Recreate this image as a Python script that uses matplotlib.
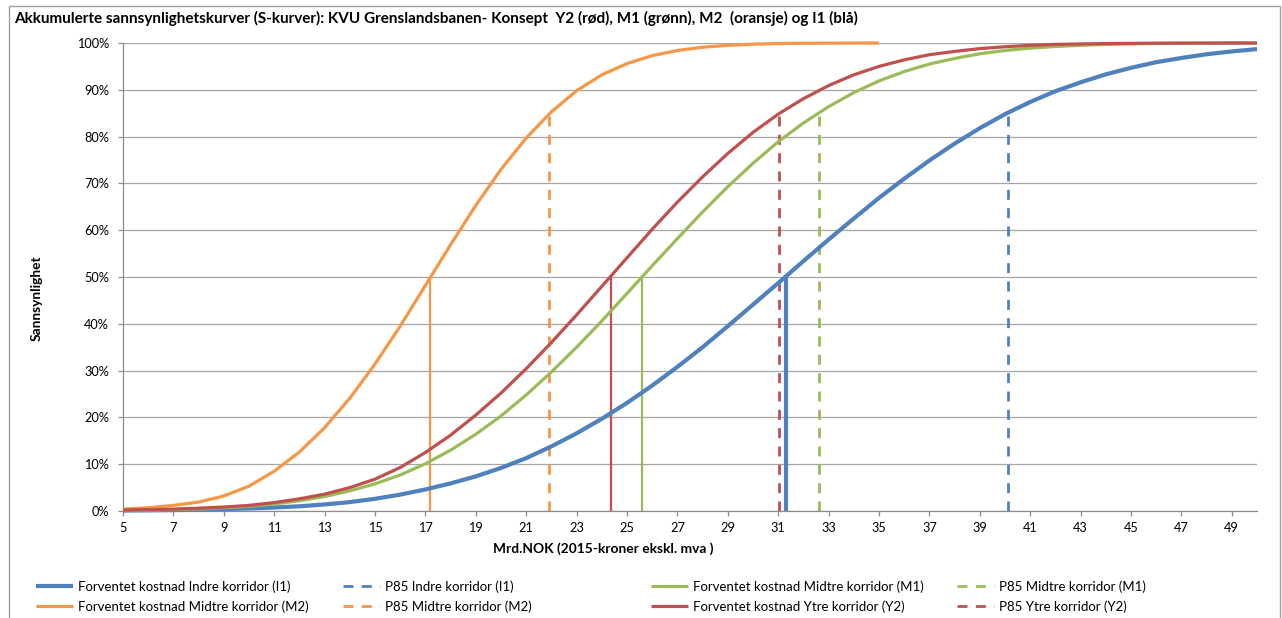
import matplotlib
matplotlib.use('Agg')
import matplotlib.pyplot as plt
from matplotlib.patches import Rectangle
from matplotlib.ticker import FuncFormatter

W, H, DPI = 1282, 618, 100
plt.rcParams['font.family'] = ['Lato', 'DejaVu Sans']

# ---------------- data ----------------
cost = list(range(5, 51))          # Mrd.NOK
cost_m2 = list(range(5, 36))

p_i1 = [0.1, 0.15, 0.2, 0.3, 0.4, 0.55, 0.75, 1.0, 1.4, 1.9, 2.6, 3.5, 4.6, 5.9, 7.4, 9.2,
        11.3, 13.8, 16.6, 19.7, 23.1, 26.8, 30.8, 35.0, 39.5, 44.1, 48.7, 53.4, 58.0, 62.5,
        66.9, 71.0, 74.9, 78.5, 81.8, 84.8, 87.4, 89.7, 91.6, 93.3, 94.7, 95.9, 96.8, 97.6,
        98.2, 98.7]
p_m1 = [0.15, 0.2, 0.3, 0.45, 0.7, 1.0, 1.5, 2.2, 3.1, 4.3, 5.8, 7.7, 10.1, 13.0, 16.4, 20.3,
        24.8, 29.7, 35.0, 40.6, 46.5, 52.4, 58.2, 63.9, 69.3, 74.3, 78.9, 82.9, 86.4, 89.4,
        91.9, 93.9, 95.5, 96.7, 97.7, 98.4, 98.9, 99.25, 99.5, 99.7, 99.8, 99.9, 99.93, 99.96,
        99.98, 100.0]
p_y2 = [0.2, 0.3, 0.4, 0.6, 0.85, 1.2, 1.8, 2.6, 3.6, 5.0, 6.8, 9.3, 12.5, 16.2, 20.5, 25.2,
        30.4, 36.0, 41.9, 48.0, 54.1, 60.2, 66.0, 71.4, 76.4, 80.9, 84.8, 88.1, 90.9, 93.2,
        95.0, 96.4, 97.5, 98.2, 98.8, 99.2, 99.5, 99.7, 99.8, 99.88, 99.93, 99.96, 99.98, 99.99,
        100.0, 100.0]
p_m2 = [0.4, 0.7, 1.2, 1.9, 3.2, 5.3, 8.5, 12.6, 17.8, 24.1, 31.4, 39.5, 48.2, 56.9, 65.3,
        73.0, 79.7, 85.3, 89.8, 93.2, 95.6, 97.3, 98.4, 99.1, 99.5, 99.75, 99.88, 99.94, 99.97,
        99.99, 100.0]

concepts = ['I1', 'M1', 'M2', 'Y2']
expected = [31.3, 25.6, 17.2, 24.35]     # Forventet kostnad (P50)
p85 = [40.1, 32.6, 21.9, 31.05]          # P85
exp_level, p85_level = 50, 85

labels_exp = ['Forventet kostnad Indre korridor (I1)', 'Forventet kostnad Midtre korridor (M1)',
              'Forventet kostnad Midtre korridor (M2)', 'Forventet kostnad Ytre korridor (Y2)']
labels_p85 = ['P85 Indre korridor (I1)', 'P85 Midtre korridor (M1)',
              'P85 Midtre korridor (M2)', 'P85 Ytre korridor (Y2)']

title = 'Akkumulerte sannsynlighetskurver (S-kurver): KVU Grenslandsbanen- Konsept  Y2 (rød), M1 (grønn), M2  (oransje) og I1 (blå)'
xlabel = 'Mrd.NOK (2015-kroner ekskl. mva )'
ylabel = 'Sannsynlighet'
xticks = list(range(5, 50, 2))
yticks = list(range(0, 101, 10))

# ---------------- styles ----------------
colors = {'I1': '#4F81BD', 'M1': '#9BBB59', 'M2': '#F79646', 'Y2': '#C0504D'}
curve_lw = {'I1': 3.0, 'M1': 2.3, 'M2': 2.3, 'Y2': 2.3}
vline_lw = {'I1': 3.0, 'M1': 1.6, 'M2': 1.6, 'Y2': 1.6}
dash = (0, (3.6, 3.0))
px = 72.0 / DPI

fig = plt.figure(figsize=(W / DPI, H / DPI), dpi=DPI)
fig.patch.set_facecolor('white')
L, R, T, B = 123, 1257, 43, 511
ax = fig.add_axes([L / W, 1 - B / H, (R - L) / W, (B - T) / H])

series = {'I1': (cost, p_i1), 'M1': (cost, p_m1), 'M2': (cost_m2, p_m2), 'Y2': (cost, p_y2)}
curve_handles = {}
p85_handles = {}
for i, c in enumerate(concepts):
    xs, ys = series[c]
    ln, = ax.plot(xs, ys, color=colors[c], lw=curve_lw[c], clip_on=False, zorder=3,
                  solid_capstyle='butt', solid_joinstyle='round')
    curve_handles[c] = ln
    ax.vlines(expected[i], 0, exp_level, color=colors[c], lw=vline_lw[c], zorder=2.5)
    v = ax.vlines(p85[i], 0, p85_level, color=colors[c], lw=2.0, linestyles=[dash], zorder=2.5)
    p85_handles[c] = v

ax.set_xlim(5, 50)
ax.set_ylim(0, 100)
ax.set_xticks(xticks)
ax.set_yticks(yticks)
ax.yaxis.set_major_formatter(FuncFormatter(lambda v, p: f'{int(round(v))}%'))
ax.grid(axis='y', color='#A6A6A6', lw=0.9)
ax.set_axisbelow(True)
for s in ['top', 'right']:
    ax.spines[s].set_visible(False)
for s in ['left', 'bottom']:
    ax.spines[s].set_color('#8C8C8C')
    ax.spines[s].set_linewidth(0.9)
ax.tick_params(axis='both', direction='out', length=5 * px, width=0.9, colors='#8C8C8C',
               labelcolor='black', labelsize=9.2)
ax.tick_params(axis='y', pad=9 * px)
ax.tick_params(axis='x', pad=6 * px)

# texts
t_title = fig.text(14 / W, 1 - 18 / H, title, fontweight='bold', fontsize=10,
                   ha='left', va='center')
t_x = fig.text(603 / W, 1 - 549 / H, xlabel, fontweight='bold', fontsize=9,
               ha='center', va='center')
t_y = fig.text(37 / W, 1 - 298 / H, ylabel, fontweight='bold', fontsize=9,
               ha='center', va='center', rotation=90)

fig.canvas.draw()
r = fig.canvas.get_renderer()


def fit(t, target):
    w = t.get_window_extent(r).width
    t.set_fontsize(t.get_fontsize() * target / w)


fit(t_title, 844)
fit(t_x, 221)
tmp = fig.text(0, 0, labels_exp[0], fontsize=9)
w0 = tmp.get_window_extent(r).width
leg_fs = 9 * 214 / w0
tmp.remove()
t_y.set_fontsize(t_x.get_fontsize())

# legends: 4 columns, 2 rows (row-major as in reference)
cols = [
    (36, [curve_handles['I1'], curve_handles['M2']], [labels_exp[0], labels_exp[2]]),
    (343, [p85_handles['I1'], p85_handles['M2']], [labels_p85[0], labels_p85[2]]),
    (651, [curve_handles['M1'], curve_handles['Y2']], [labels_exp[1], labels_exp[3]]),
    (957, [p85_handles['M1'], p85_handles['Y2']], [labels_p85[1], labels_p85[3]]),
]
leg_px = leg_fs / px
for x0, hs, lbs in cols:
    fig.legend(hs, lbs, loc='center left', bbox_to_anchor=(x0 / W, 1 - 596.5 / H),
               frameon=False, fontsize=leg_fs, borderpad=0, borderaxespad=0,
               handlelength=37 / leg_px, handletextpad=5 / leg_px,
               labelspacing=0.55)

fig.add_artist(Rectangle((9 / W, -0.05), (1280 - 9) / W, 1 - 6 / H + 0.05,
                         transform=fig.transFigure, fill=False, edgecolor='#A0A0A0', lw=1.0))

fig.savefig('out.png', dpi=DPI)
